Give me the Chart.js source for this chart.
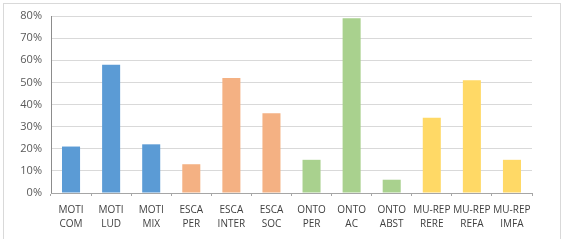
<!DOCTYPE html>
<html>
<head>
<meta charset="utf-8">
<script src="https://cdn.jsdelivr.net/npm/chart.js@4/dist/chart.umd.min.js"></script>
<style>
  html, body { margin: 0; padding: 0; background: #fff; }
  #marco { position: absolute; left: 3px; top: 3px; width: 558px; height: 236px;
    border: 1px solid #d9d9d9; border-bottom: none; box-sizing: border-box; }
  #lienzo { position: absolute; left: 0; top: 0; width: 567px; height: 241px; }
</style>
</head>
<body>
<div id="marco"></div>
<div id="lienzo"><canvas id="grafico" width="567" height="241"></canvas></div>
<script>
const categorias = [
  ['MOTI', 'COM'], ['MOTI', 'LUD'], ['MOTI', 'MIX'],
  ['ESCA', 'PER'], ['ESCA', 'INTER'], ['ESCA', 'SOC'],
  ['ONTO', 'PER'], ['ONTO', 'AC'], ['ONTO', 'ABST'],
  ['MU-REP', 'RERE'], ['MU-REP', 'REFA'], ['MU-REP', 'IMFA']
];
const valores = [21, 58, 22, 13, 52, 36, 15, 79, 6, 34, 51, 15];
const colores = [
  '#5b9bd5', '#5b9bd5', '#5b9bd5',
  '#f4b183', '#f4b183', '#f4b183',
  '#a9d18e', '#a9d18e', '#a9d18e',
  '#ffd966', '#ffd966', '#ffd966'
];

const familia = '"Open Sans", "Noto Sans", sans-serif';

const ctx = document.getElementById('grafico').getContext('2d');
new Chart(ctx, {
  type: 'bar',
  data: {
    labels: categorias,
    datasets: [{
      data: valores,
      backgroundColor: colores,
      borderWidth: 0,
      categoryPercentage: 1,
      barPercentage: 0.45
    }]
  },
  options: {
    responsive: false,
    animation: false,
    layout: { padding: { top: 16, right: 35, left: 0, bottom: 0 } },
    plugins: { legend: { display: false }, tooltip: { enabled: false } },
    scales: {
      y: {
        min: 0,
        max: 80,
        ticks: {
          stepSize: 10,
          color: '#595959',
          font: { family: familia, size: 11 },
          padding: 9,
          callback: v => v + '%'
        },
        grid: { color: '#d9d9d9', drawTicks: false },
        border: { color: '#8c8c8c', width: 1 },
        afterFit: s => { s.width = 51; }
      },
      x: {
        ticks: {
          color: '#404040',
          font: { family: familia, size: 10, lineHeight: 1.4 },
          padding: 7,
          maxRotation: 0,
          autoSkip: false
        },
        grid: { drawOnChartArea: false, drawTicks: true, tickLength: 3, color: '#a6a6a6' },
        border: { color: '#a6a6a6', width: 1 },
        afterFit: s => { s.height = 48; }
      }
    }
  }
});
</script>
</body>
</html>
